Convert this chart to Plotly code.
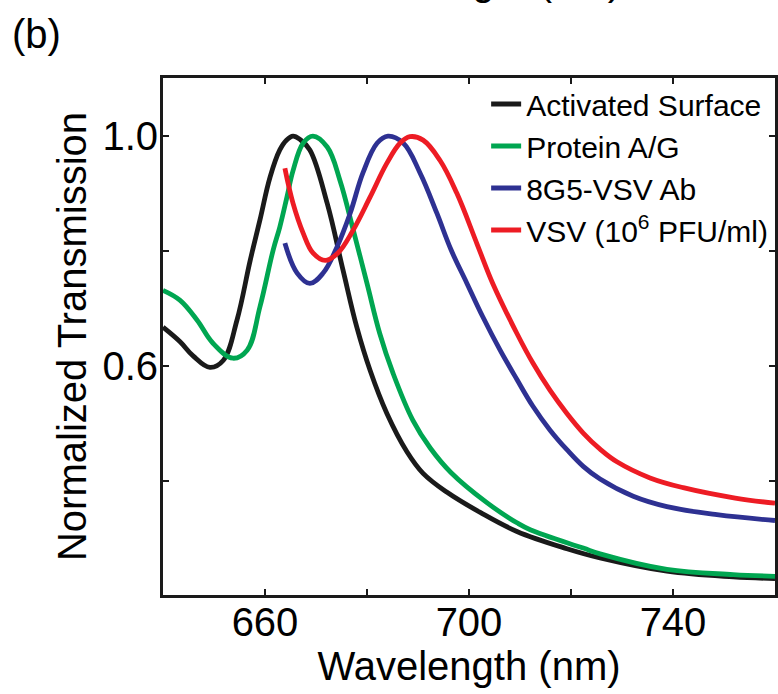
import plotly.graph_objects as go

# ---- data ----
act_x = [640.0, 643.3, 645.9, 649.2, 651.8, 654.5, 657.1, 659.0, 661.0, 662.9, 664.2, 665.5, 666.9, 668.8,
         672.2, 675.3, 678.0, 680.6, 683.9, 687.8, 691.0, 695.7, 702.2, 709.4, 719.2, 725.7, 738.8, 751.8, 760.0]
act_y = [0.668, 0.643, 0.618, 0.598, 0.610, 0.680, 0.784, 0.854, 0.929, 0.976, 0.993, 1.000, 0.994, 0.976,
         0.883, 0.767, 0.668, 0.593, 0.518, 0.452, 0.414, 0.381, 0.346, 0.313, 0.283, 0.267, 0.244, 0.234, 0.231]

pag_x = [640.0, 643.3, 646.7, 649.8, 653.7, 656.5, 659.0, 661.6, 662.9, 664.3, 665.5, 667.5, 669.4, 672.2,
         674.7, 677.3, 680.0, 682.5, 685.1, 689.0, 692.4, 696.5, 703.5, 709.4, 712.0, 722.4, 725.7, 738.8, 751.8, 760.0]
pag_y = [0.732, 0.715, 0.680, 0.640, 0.614, 0.628, 0.703, 0.802, 0.842, 0.894, 0.940, 0.988, 1.000, 0.981,
         0.923, 0.837, 0.744, 0.657, 0.588, 0.506, 0.458, 0.415, 0.363, 0.328, 0.316, 0.284, 0.274, 0.247, 0.238, 0.235]

ab_x = [663.9, 666.3, 668.8, 671.4, 674.1, 676.7, 679.2, 682.0, 684.1, 687.1, 690.4, 693.7, 696.5, 699.6,
        702.7, 706.1, 709.4, 712.5, 715.9, 719.2, 722.4, 725.7, 732.2, 738.8, 748.6, 760.0]
ab_y = [0.814, 0.762, 0.744, 0.762, 0.807, 0.866, 0.936, 0.988, 1.000, 0.988, 0.936, 0.866, 0.802, 0.744,
        0.686, 0.628, 0.577, 0.531, 0.489, 0.455, 0.426, 0.404, 0.374, 0.356, 0.342, 0.332]

vsv_x = [663.9, 665.5, 667.5, 669.4, 671.8, 674.3, 677.3, 680.6, 683.9, 686.5, 688.4, 691.0, 694.3, 697.6,
         701.6, 704.7, 709.4, 712.5, 715.9, 719.2, 722.4, 725.7, 729.0, 735.5, 742.0, 752.2, 760.0]
vsv_y = [0.944, 0.883, 0.831, 0.797, 0.784, 0.797, 0.837, 0.894, 0.953, 0.988, 0.999, 0.993, 0.958, 0.901,
         0.812, 0.743, 0.657, 0.606, 0.558, 0.518, 0.484, 0.456, 0.434, 0.406, 0.389, 0.371, 0.362]

series_names = ["Activated Surface", "Protein A/G", "8G5-VSV Ab", "VSV (10<sup>6</sup> PFU/ml)"]
series_colors = ["#1a1a1a", "#00a651", "#2e3192", "#ed1c24"]

x_tickvals = [660, 680, 700, 720, 740]
x_ticktext = ["660", "", "700", "", "740"]
y_tickvals = [0.4, 0.6, 0.8, 1.0]
y_ticktext = ["", "0.6", "", "1.0"]

FONT = "Liberation Sans, Arial, sans-serif"

fig = go.Figure()
for (xs, ys), name, col in zip([(act_x, act_y), (pag_x, pag_y), (ab_x, ab_y), (vsv_x, vsv_y)],
                               series_names, series_colors):
    fig.add_trace(go.Scatter(x=xs, y=ys, mode="lines", name=name,
                             line=dict(color=col, width=4.8, shape="spline", smoothing=1.1)))

axis_common = dict(showline=True, linecolor="#1a1a1a", linewidth=3, mirror="ticks",
                   ticks="inside", ticklen=6, tickwidth=2, tickcolor="#1a1a1a",
                   showgrid=False, zeroline=False, automargin=False,
                   tickfont=dict(family=FONT, size=40, color="black"))

fig.update_layout(
    width=778, height=694,
    margin=dict(l=163, r=3, t=78, b=99),
    paper_bgcolor="white", plot_bgcolor="white",
    font=dict(family=FONT, color="black"),
    xaxis=dict(range=[640, 760], tickvals=x_tickvals, ticktext=x_ticktext, ticklabelstandoff=-10,
               title=dict(text="Wavelength (nm)", font=dict(family=FONT, size=40), standoff=0),
               **axis_common),
    yaxis=dict(range=[0.2025, 1.101], tickvals=y_tickvals, ticktext=y_ticktext, ticklabelstandoff=-6,
               title=dict(text="Normalized Transmission", font=dict(family=FONT, size=40), standoff=4),
               **axis_common),
    legend=dict(x=0.528, y=1.0, xanchor="left", yanchor="top",
                font=dict(family=FONT, size=30, color="black"),
                bgcolor="rgba(0,0,0,0)", borderwidth=0, tracegroupgap=0),
    showlegend=True,
)

fig.add_annotation(text="(b)", xref="paper", yref="paper", x=0, y=1, xanchor="left", yanchor="bottom",
                   xshift=-153, yshift=20, showarrow=False, font=dict(family=FONT, size=40, color="black"))
fig.add_annotation(text="Wavelength (nm)", xref="paper", yref="paper", x=0.5, y=1, xanchor="center",
                   yanchor="middle", yshift=97, showarrow=False,
                   font=dict(family=FONT, size=40, color="black"))

fig.write_html("out.html", config={"displayModeBar": False},
               post_script="document.body.style.margin='0';document.body.style.overflow='hidden';")
